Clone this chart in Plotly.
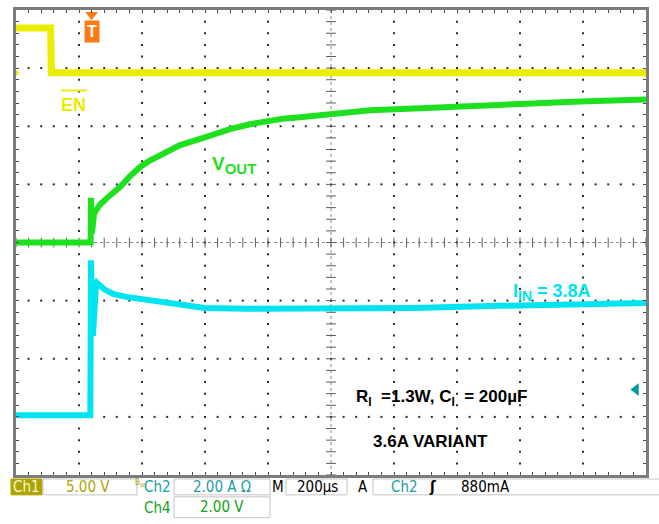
import plotly.graph_objects as go

# ---------------- scope settings ----------------
TIME_PER_DIV = 200          # µs / div
N_HDIV = 10
N_VDIV = 8
CH1_SCALE = 5.0             # V/div  (EN)
CH2_SCALE = 2.0             # A/div  (IIN)
CH4_SCALE = 2.0             # V/div  (VOUT)
CH1_GND = 6.92              # ground reference position, divisions from bottom
CH2_GND = 1.03
CH4_GND = 4.0
TRIG_TIME = 240             # µs
TRIG_LEVEL = 0.88           # A

# ---------------- data ----------------
# EN (Ch1)
en_t = [0, 110, 112, 2000]
en_v = [3.85, 3.85, 0.0, 0.0]

# VOUT (Ch4)
vout_t = [0, 237, 238, 241, 248, 267, 298, 330, 362, 394, 425, 457, 521, 600,
          679, 743, 806, 854, 902, 997, 1124, 1283, 1410, 1537, 1660, 1790, 2000]
vout_v = [0.0, 0.0, 1.54, 0.31, 1.00, 1.31, 1.62, 1.91, 2.28, 2.60, 2.82, 3.01,
          3.35, 3.62, 3.90, 4.07, 4.21, 4.27, 4.31, 4.41, 4.55, 4.62, 4.69, 4.75,
          4.80, 4.85, 4.92]

# IIN (Ch2)
iin_t = [0, 236, 238, 244, 254, 257, 280, 308, 350, 394, 440, 489, 540, 600, 733,
         997, 1260, 1537, 1790, 2000]
iin_a = [0.0, 0.0, 5.33, 2.73, 4.47, 4.55, 4.33, 4.17, 4.07, 4.00, 3.91, 3.83,
         3.75, 3.69, 3.66, 3.66, 3.69, 3.76, 3.83, 3.86]

# status-bar texts
CH1_LABEL, CH1_SET = "Ch1", "5.00 V"
CH2_LABEL, CH2_SET = "Ch2", "2.00 A Ω"
CH4_LABEL, CH4_SET = "Ch4", "2.00 V"
TIMEBASE = "200µs"
TRIG_TEXT = "880mA"

YELLOW = "#ecec00"
GREEN = "#1fe01f"
CYAN = "#00e4f0"
TEAL = "#1a9ea4"
OLIVE = "#aea400"
DKGREEN = "#13a313"
ORANGE = "#ff7a12"

W, H = 659, 524
L, R, T, B = 16, 646, 7, 475


def P(x, y):
    """pixel -> paper coordinates (for decorations outside the grid)"""
    return (x - L) / (R - L), (B - y) / (B - T)


fig = go.Figure()

# ---------------- graticule ----------------
gx, gy = [], []
for k in range(1, N_HDIV):
    if k == N_HDIV // 2:
        continue
    for j in range(1, N_VDIV * 5):
        gx.append(k * TIME_PER_DIV)
        gy.append(j / 5)
for k in range(1, N_VDIV):
    if k == N_VDIV // 2:
        continue
    for i in range(1, N_HDIV * 5):
        gx.append(i * TIME_PER_DIV / 5)
        gy.append(k)
fig.add_trace(go.Scatter(x=gx, y=gy, mode="markers", hoverinfo="skip",
                         marker=dict(symbol="square", size=2, color="#2a2a2a",
                                     line=dict(width=0))))

cx_v = N_HDIV // 2 * TIME_PER_DIV
cy_h = N_VDIV // 2
fig.add_shape(type="line", x0=cx_v, x1=cx_v, y0=0, y1=N_VDIV,
              line=dict(color="#8a8a8a", width=1, dash="dot"), layer="below")
fig.add_shape(type="line", x0=0, x1=N_HDIV * TIME_PER_DIV, y0=cy_h, y1=cy_h,
              line=dict(color="#8a8a8a", width=1, dash="dot"), layer="below")
fig.add_trace(go.Scatter(x=[cx_v] * (N_VDIV * 5 + 1),
                         y=[j / 5 for j in range(N_VDIV * 5 + 1)],
                         mode="markers", hoverinfo="skip",
                         marker=dict(symbol="line-ew", size=7,
                                     line=dict(width=1, color="#5a5a5a"))))
fig.add_trace(go.Scatter(x=[i * TIME_PER_DIV / 5 for i in range(N_HDIV * 5 + 1)],
                         y=[cy_h] * (N_HDIV * 5 + 1),
                         mode="markers", hoverinfo="skip",
                         marker=dict(symbol="line-ns", size=7,
                                     line=dict(width=1, color="#5a5a5a"))))

# ---------------- waveforms ----------------
fig.add_trace(go.Scatter(x=iin_t, y=[CH2_GND + a / CH2_SCALE for a in iin_a],
                         mode="lines", line=dict(color=CYAN, width=6),
                         hoverinfo="skip"))
fig.add_trace(go.Scatter(x=vout_t, y=[CH4_GND + v / CH4_SCALE for v in vout_v],
                         mode="lines", line=dict(color=GREEN, width=6),
                         hoverinfo="skip"))
fig.add_trace(go.Scatter(x=en_t, y=[CH1_GND + v / CH1_SCALE for v in en_v],
                         mode="lines", line=dict(color=YELLOW, width=7),
                         hoverinfo="skip"))

# trigger level arrow (right) and trigger position (top)
fig.add_trace(go.Scatter(x=[1968], y=[CH2_GND + TRIG_LEVEL / CH2_SCALE],
                         mode="markers", hoverinfo="skip", cliponaxis=False,
                         marker=dict(symbol="triangle-left", size=11, color="#009a9a")))
fig.add_trace(go.Scatter(x=[TRIG_TIME], y=[7.92], mode="markers", hoverinfo="skip",
                         cliponaxis=False,
                         marker=dict(symbol="triangle-down", size=11, color=ORANGE)))
# ground markers (left)
fig.add_trace(go.Scatter(x=[4, 4], y=[CH1_GND, CH2_GND], mode="markers",
                         hoverinfo="skip", cliponaxis=False,
                         marker=dict(symbol="triangle-right", size=5,
                                     color=[YELLOW, CYAN])))

ann = []
# trigger badge
ann.append(dict(x=TRIG_TIME, y=7.63, xref="x", yref="y", text="<b>T</b>",
                showarrow=False, bgcolor=ORANGE, borderpad=2,
                font=dict(family="Liberation Sans", size=16, color="white")))
# on-screen labels
ann.append(dict(x=184, y=6.37, xref="x", yref="y", text="<b>EN</b>", showarrow=False,
                font=dict(family="Liberation Sans", size=18, color=YELLOW)))
ann.append(dict(x=692, y=5.33, xref="x", yref="y",
                text="<b>V<sub><span style='font-size:15px'>OUT</span></sub></b>",
                showarrow=False,
                font=dict(family="Liberation Sans", size=19, color=GREEN)))
ann.append(dict(x=1700, y=3.14, xref="x", yref="y",
                text="<b>I<sub><span style='font-size:14px'>IN</span></sub> = 3.8A</b>",
                showarrow=False,
                font=dict(family="Liberation Sans", size=18, color=CYAN)))
ann.append(dict(x=1350, y=1.33, xref="x", yref="y",
                text="<b>R<sub>I</sub>  =1.3W, C<sub>I</sub>  = 200µF</b>",
                showarrow=False,
                font=dict(family="Liberation Sans", size=17, color="black")))
ann.append(dict(x=1317, y=0.58, xref="x", yref="y", text="<b>3.6A VARIANT</b>",
                showarrow=False,
                font=dict(family="Liberation Sans", size=17, color="black")))
fig.add_shape(type="line", x0=143, x1=225, y0=6.615, y1=6.615, xref="x", yref="y",
              line=dict(color=YELLOW, width=2))

# ---------------- status bar ----------------
SF = "DejaVu Sans Condensed"


def box(x0, y0, x1, y1, fill="white", edge="#c4c4c4"):
    a0, b0 = P(x0, y0)
    a1, b1 = P(x1, y1)
    fig.add_shape(type="rect", xref="paper", yref="paper", x0=a0, x1=a1, y0=b0, y1=b1,
                  fillcolor=fill, line=dict(color=edge, width=1))


def txt(x, y, s, color, size=15, anchor="center"):
    a, b = P(x, y)
    ann.append(dict(x=a, y=b, xref="paper", yref="paper", text=s, showarrow=False,
                    xanchor=anchor, yanchor="middle",
                    font=dict(family=SF, size=size, color=color)))


box(11, 479, 42, 495, fill=OLIVE, edge=OLIVE)
txt(26, 487, CH1_LABEL, "#f6f6d2")
box(43, 479, 137, 495)
txt(88, 487, CH1_SET, OLIVE)
txt(140, 483, "B<sub>W</sub>", OLIVE, size=8)
txt(157, 487, CH2_LABEL, TEAL)
box(174, 479, 270, 495)
txt(222, 487, CH2_SET, TEAL)
txt(278, 487, "M", "black")
box(286, 479, 347, 495)
txt(317, 487, TIMEBASE, "black")
txt(363, 487, "A", "black")
box(373, 479, 662, 495)
txt(404, 487, CH2_LABEL, TEAL)
txt(432, 487, "<b>ʃ</b>", "black")
txt(485, 487, TRIG_TEXT, "black")
txt(157, 508, CH4_LABEL, DKGREEN)
box(174, 497, 270, 518)
txt(222, 507, CH4_SET, DKGREEN)

axis_common = dict(showgrid=False, zeroline=False, showline=True, linecolor="#7c7c7c",
                   linewidth=3, mirror="ticks", ticks="inside", tickcolor="#4a4a4a",
                   ticklen=3, tickwidth=1, showticklabels=False, fixedrange=True)

fig.update_layout(
    width=W, height=H, autosize=False,
    margin=dict(l=L, r=W - R, t=T, b=H - B, pad=0),
    paper_bgcolor="white", plot_bgcolor="white",
    showlegend=False,
    xaxis=dict(range=[0, N_HDIV * TIME_PER_DIV], tick0=0, dtick=TIME_PER_DIV / 5,
               **axis_common),
    yaxis=dict(range=[0, N_VDIV], tick0=0, dtick=0.2, **axis_common),
    annotations=ann,
)

fig.write_html("out.html", config={"displayModeBar": False},
               post_script="document.body.style.margin='0px';"
                           "document.body.style.padding='0px';")
